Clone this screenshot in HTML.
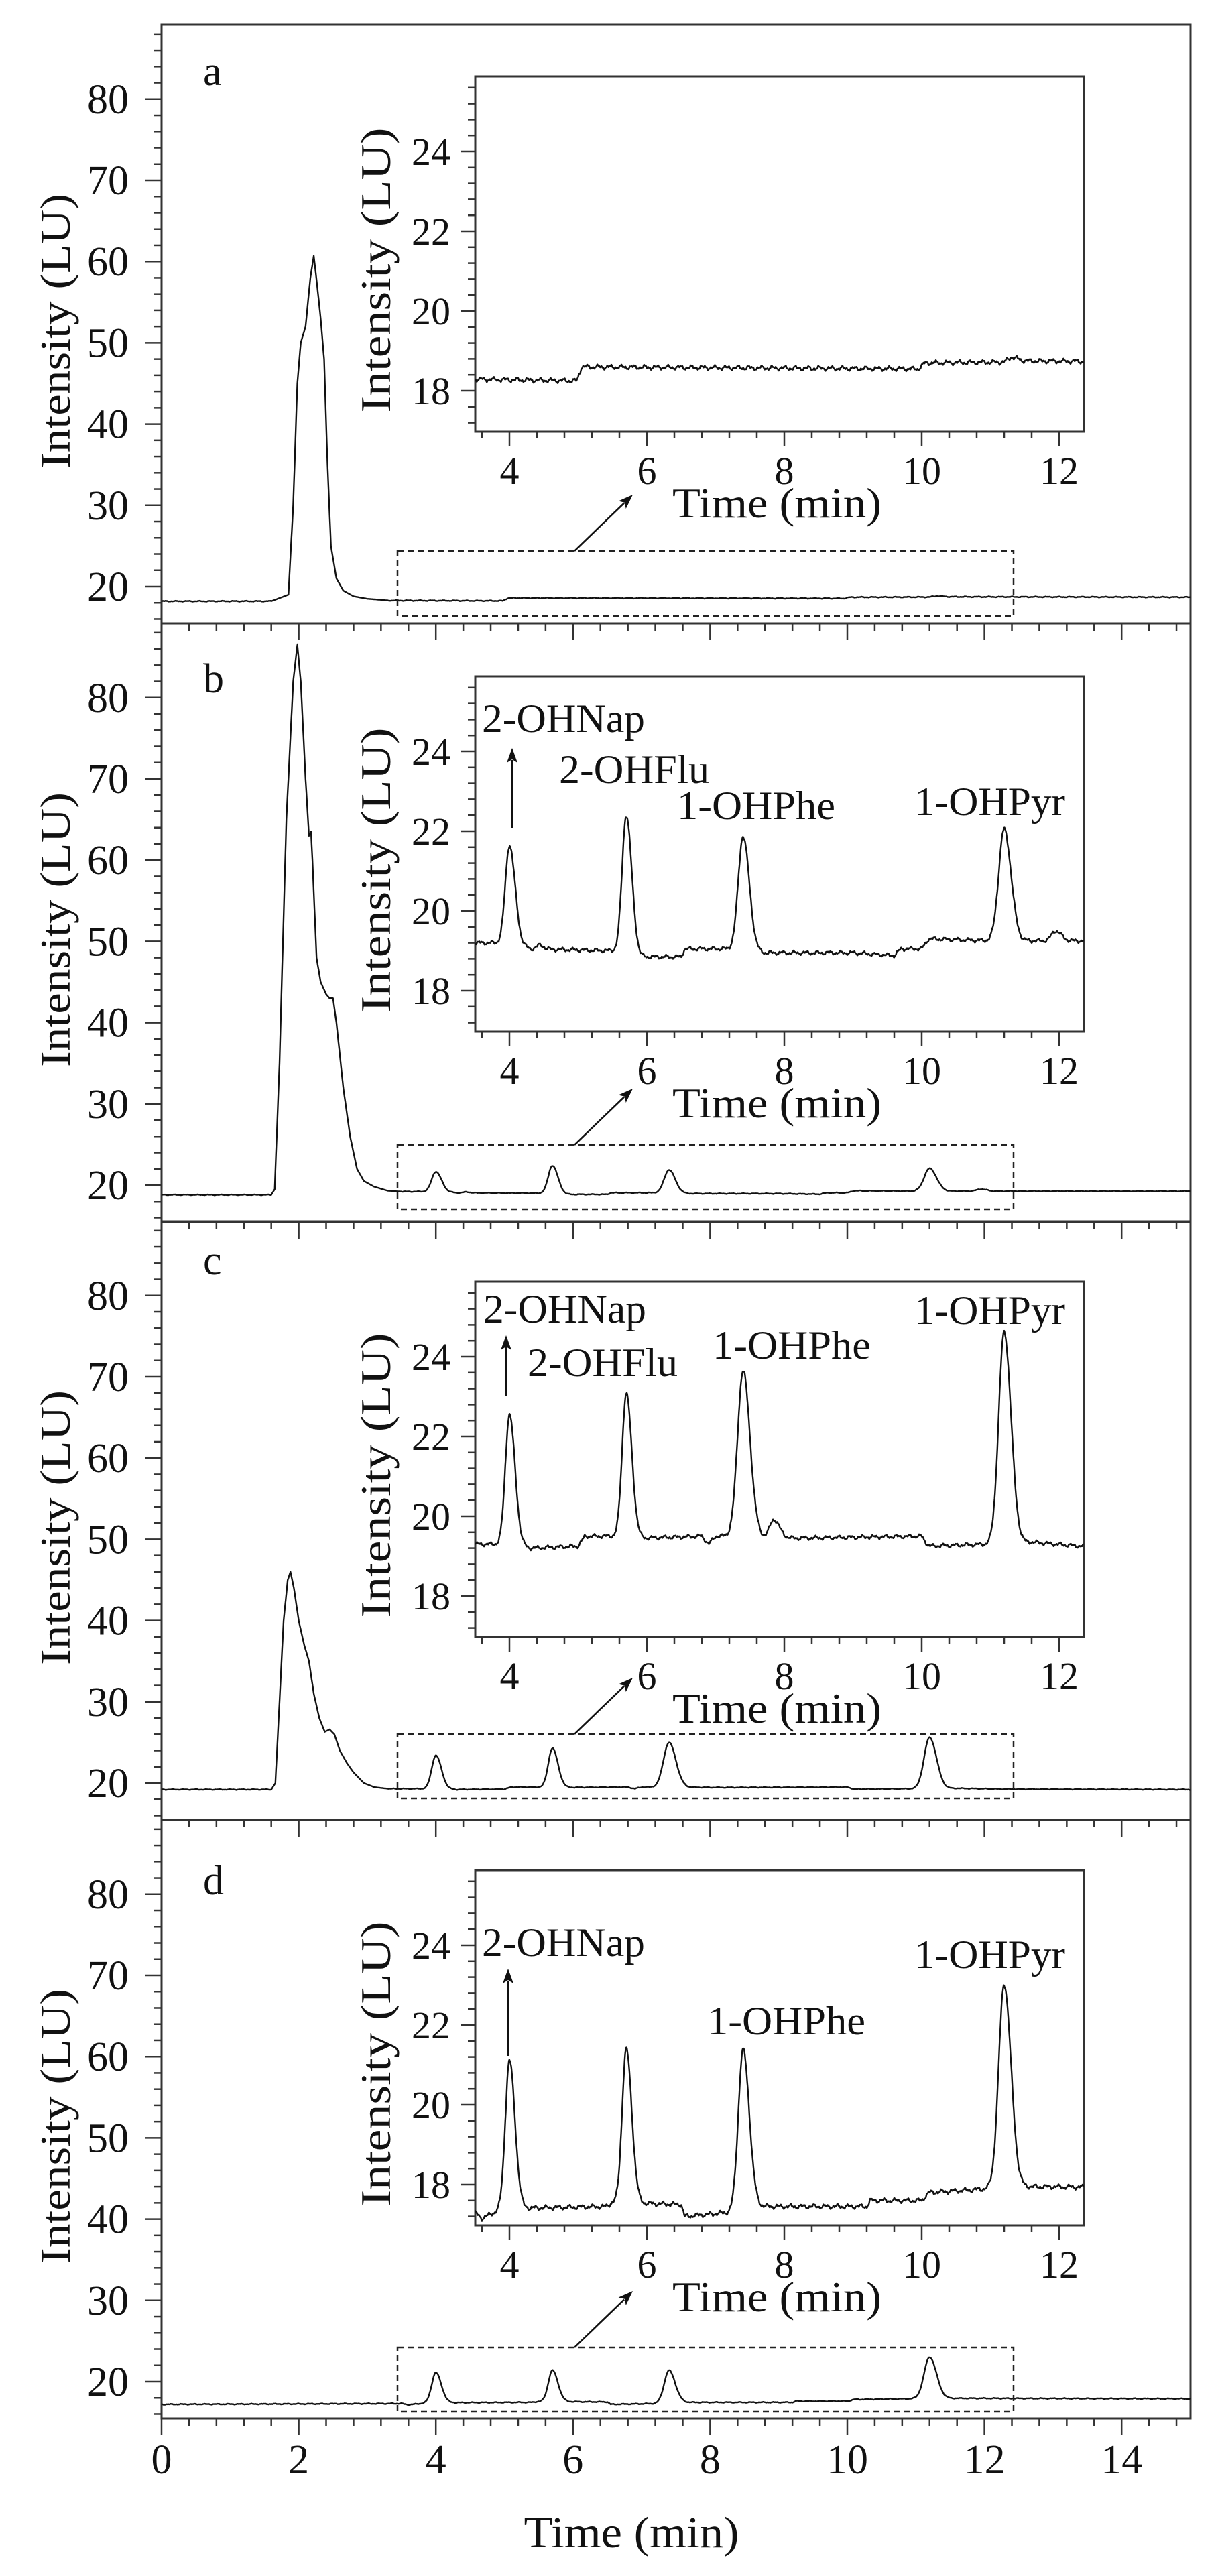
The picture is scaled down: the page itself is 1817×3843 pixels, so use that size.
<!DOCTYPE html>
<html><head><meta charset="utf-8"><style>
html,body{margin:0;padding:0;background:#fff;}
svg{display:block;}
text{font-family:"Liberation Serif",serif;fill:#111;}
</style></head><body>
<svg id="s" width="1817" height="3843" viewBox="0 0 1817 3843" xmlns="http://www.w3.org/2000/svg">
<defs>
<clipPath id="c0"><rect x="709" y="114" width="908" height="530"/></clipPath>
<clipPath id="c1"><rect x="709" y="1009" width="908" height="530"/></clipPath>
<clipPath id="c2"><rect x="709" y="1912" width="908" height="530"/></clipPath>
<clipPath id="c3"><rect x="709" y="2790" width="908" height="530"/></clipPath>
</defs>
<g id="g"></g>
<g font-size="62">
<text x="303" y="127">a</text>
<text x="303" y="1033">b</text>
<text x="303" y="1901">c</text>
<text x="303" y="2826">d</text>
</g>
<g font-size="64" text-anchor="middle">
<text transform="translate(104,494) rotate(-90)" textLength="410" lengthAdjust="spacingAndGlyphs">Intensity (LU)</text>
<text transform="translate(104,1387) rotate(-90)" textLength="410" lengthAdjust="spacingAndGlyphs">Intensity (LU)</text>
<text transform="translate(104,2279) rotate(-90)" textLength="410" lengthAdjust="spacingAndGlyphs">Intensity (LU)</text>
<text transform="translate(104,3172) rotate(-90)" textLength="410" lengthAdjust="spacingAndGlyphs">Intensity (LU)</text>
<text transform="translate(582,403) rotate(-90)" textLength="425" lengthAdjust="spacingAndGlyphs">Intensity (LU)</text>
<text transform="translate(582,1298) rotate(-90)" textLength="425" lengthAdjust="spacingAndGlyphs">Intensity (LU)</text>
<text transform="translate(582,2201) rotate(-90)" textLength="425" lengthAdjust="spacingAndGlyphs">Intensity (LU)</text>
<text transform="translate(582,3079) rotate(-90)" textLength="425" lengthAdjust="spacingAndGlyphs">Intensity (LU)</text>
</g>
<g font-size="64" text-anchor="middle">
<text x="1159" y="772" textLength="312" lengthAdjust="spacingAndGlyphs">Time (min)</text>
<text x="1159" y="1667" textLength="312" lengthAdjust="spacingAndGlyphs">Time (min)</text>
<text x="1159" y="2570" textLength="312" lengthAdjust="spacingAndGlyphs">Time (min)</text>
<text x="1159" y="3448" textLength="312" lengthAdjust="spacingAndGlyphs">Time (min)</text>
<text x="942" y="3800" font-size="66" textLength="321" lengthAdjust="spacingAndGlyphs">Time (min)</text>
</g>
<g font-size="60">
<text x="719" y="1092" textLength="243" lengthAdjust="spacingAndGlyphs">2-OHNap</text>
<text x="834" y="1168" textLength="224" lengthAdjust="spacingAndGlyphs">2-OHFlu</text>
<text x="1010" y="1222" textLength="236" lengthAdjust="spacingAndGlyphs">1-OHPhe</text>
<text x="1364" y="1216" textLength="225" lengthAdjust="spacingAndGlyphs">1-OHPyr</text>
<text x="721" y="1973" textLength="243" lengthAdjust="spacingAndGlyphs">2-OHNap</text>
<text x="787" y="2053" textLength="224" lengthAdjust="spacingAndGlyphs">2-OHFlu</text>
<text x="1063" y="2027" textLength="236" lengthAdjust="spacingAndGlyphs">1-OHPhe</text>
<text x="1364" y="1975" textLength="225" lengthAdjust="spacingAndGlyphs">1-OHPyr</text>
<text x="719" y="2918" textLength="243" lengthAdjust="spacingAndGlyphs">2-OHNap</text>
<text x="1055" y="3035" textLength="236" lengthAdjust="spacingAndGlyphs">1-OHPhe</text>
<text x="1364" y="2936" textLength="225" lengthAdjust="spacingAndGlyphs">1-OHPyr</text>
</g>
<g id="lab" font-size="60"></g>
</svg>
<script>
(function(){
var NS="http://www.w3.org/2000/svg",g=document.getElementById('g'),lab=document.getElementById('lab');
function el(n,a,p){var e=document.createElementNS(NS,n);for(var k in a)e.setAttribute(k,a[k]);(p||g).appendChild(e);return e;}
function txt(x,y,s,anchor,fs){var e=el('text',{x:x,y:y,'text-anchor':anchor,'font-size':fs},lab);e.textContent=s;}
function arrow(x1,y1,x2,y2){var dx=x2-x1,dy=y2-y1,L=Math.sqrt(dx*dx+dy*dy),ux=dx/L,uy=dy/L,hl=22,hw=8;
 var bx=x2-ux*hl,by=y2-uy*hl;
 el('line',{x1:x1,y1:y1,x2:bx+ux*4,y2:by+uy*4,stroke:'#111','stroke-width':2.6});
 el('polygon',{points:x2+','+y2+' '+(bx-uy*hw)+','+(by+ux*hw)+' '+(bx+ux*5)+','+(by+uy*5)+' '+(bx+uy*hw)+','+(by-ux*hw),fill:'#111'});}
var tops=[37,930,1822,2715],H=893;
var itops=[114,1009,1912,2790],IH=530;
var rects=[[822,919],[1708,1804],[2587,2683],[3502,3598]];
function xM(t){return 241+t*102.3;}
function yM(p,v){return tops[p]+838-(v-20)*12.12;}
function xI(t){return 760+(t-4)*102.5;}
function yI(p,v){return itops[p]+112-(v-24)*59.5;}
function interp(a,t){if(t<=a[0][0])return a[0][1];for(var i=1;i<a.length;i++){if(t<=a[i][0]){var f=(t-a[i-1][0])/(a[i][0]-a[i-1][0]);return a[i-1][1]+f*(a[i][1]-a[i-1][1]);}}return a[a.length-1][1];}
var P=[
{base:[[0,18.2],[1.6,18.2],[3.0,18.3],[4.98,18.25],[5.05,18.6],[9.95,18.55],[10.05,18.7],[11.2,18.72],[11.3,18.85],[11.5,18.75],[15,18.7]],
 big:[[1.6,18.2],[1.85,19],[1.92,30],[1.98,45],[2.03,50],[2.1,52],[2.17,58],[2.22,60.7],[2.27,57],[2.32,53],[2.37,48],[2.42,35],[2.47,25],[2.55,21],[2.65,19.5],[2.8,18.8],[3.0,18.5],[3.3,18.3]],
 peaks:[],mpeaks:null,noise:0.035},
{base:[[0,18.8],[1.6,18.8],[3.5,19.2],[4.1,19.2],[4.3,19.05],[5.6,19.0],[5.9,18.85],[6.5,18.85],[6.55,19.05],[7.3,19.05],[7.7,18.95],[9.0,18.95],[9.6,18.88],[9.7,19.05],[10.0,19.05],[10.1,19.3],[11.0,19.25],[15,19.25]],
 big:[[1.6,18.8],[1.65,19.5],[1.72,35],[1.82,65],[1.92,82],[1.98,86.5],[2.03,82],[2.1,70],[2.15,63],[2.18,63.5],[2.2,60],[2.26,48],[2.32,45],[2.4,43.5],[2.45,43],[2.5,43],[2.55,40],[2.65,32],[2.75,26],[2.85,22],[2.95,20.5],[3.1,19.8],[3.3,19.3],[3.5,19.2]],
 peaks:[[4.0,2.45,.06,.08],[5.7,3.45,.06,.08],[7.4,2.85,.07,.09],[11.2,2.8,.08,.1],[11.95,0.25,.06,.08],[4.45,0.1,.05,.05]],mpeaks:null,noise:0.03},
{base:[[0,19.2],[1.6,19.2],[3.3,19.3],[4.1,19.3],[4.3,19.2],[5.0,19.25],[5.1,19.5],[5.6,19.5],[5.9,19.45],[6.8,19.5],[6.9,19.3],[7.0,19.5],[7.3,19.5],[8.2,19.45],[10.0,19.5],[10.1,19.25],[11.0,19.3],[11.6,19.35],[12.3,19.25],[15,19.2]],
 big:[[1.6,19.2],[1.66,20],[1.72,30],[1.78,40],[1.84,45],[1.88,46],[1.93,44],[2.0,40],[2.08,37],[2.15,35],[2.22,31],[2.3,28],[2.38,26.3],[2.45,26.6],[2.52,26],[2.6,24],[2.7,22.5],[2.8,21.3],[2.95,20],[3.1,19.5],[3.3,19.3]],
 peaks:[[4.0,3.25,.06,.08],[5.7,3.6,.06,.08],[7.4,4.15,.08,.1],[11.2,5.3,.08,.1],[7.85,0.45,.06,.08]],
 mpeaks:[[4.0,4.1,.06,.08],[5.7,4.8,.06,.08],[7.4,5.5,.08,.1],[11.2,6.3,.08,.1]],noise:0.03},
{base:[[0,17.2],[3.5,17.3],[3.6,17.15],[3.9,17.4],[5.4,17.45],[5.5,17.55],[6.5,17.5],[6.55,17.2],[7.2,17.3],[7.6,17.45],[9.2,17.45],[9.25,17.6],[10.0,17.6],[10.1,17.8],[11.0,17.9],[11.6,17.95],[15,17.9]],
 big:null,peaks:[[4.0,3.7,.06,.08],[5.7,3.85,.06,.08],[7.4,4.0,.07,.09],[11.2,5.1,.08,.1]],mpeaks:null,noise:0.035}
];
function noise(t,p){return (Math.sin(t*37.1+p)+0.6*Math.sin(t*91.7+1.3+p*2)+0.4*Math.sin(t*213+2+p));}
function val(p,t,main){var d=P[p];if(main&&d.big&&t>=d.big[0][0]&&t<=d.big[d.big.length-1][0])return interp(d.big,t);
 var v=interp(d.base,t)+d.noise*noise(t,p);var pk=(main&&d.mpeaks)?d.mpeaks:d.peaks;
 for(var i=0;i<pk.length;i++){var dt=t-pk[i][0],s=dt<0?pk[i][2]:pk[i][3];v+=pk[i][1]*Math.exp(-dt*dt/(2*s*s));}return v;}
for(var p=0;p<4;p++){
 var T=tops[p],B=(p==3)?3608:tops[p]+H;
 el('rect',{x:241,y:T,width:1535,height:B-T,fill:'none',stroke:'#333','stroke-width':3});
 for(var v=16;v<=88;v+=2){var y=yM(p,v);if(y<T+3||y>B-3)continue;var maj=(v%10==0);
  el('line',{x1:maj?216:229,x2:241,y1:y,y2:y,stroke:'#333','stroke-width':2.5});
  if(maj&&v>=20&&v<=80)txt(192,y+21,String(v),'end',62);}
 for(var k=0;k<=37;k++){var t=k*0.4;var x=xM(t);var maj=(Math.abs(t/2-Math.round(t/2))<1e-6);
  el('line',{x1:x,x2:x,y1:B,y2:B+(maj?25:11),stroke:'#333','stroke-width':2.5});
  if(p==3&&maj)txt(x,3690,String(Math.round(t)),'middle',62);}
 var d='';for(var t=0;t<=15.0001;t+=0.01){d+=(t==0?'M':'L')+xM(t).toFixed(1)+','+yM(p,val(p,t,true)).toFixed(1);}
 el('path',{d:d,fill:'none',stroke:'#111','stroke-width':2.4,'stroke-linejoin':'round'});
 var r=rects[p];el('rect',{x:593,y:r[0],width:919,height:r[1]-r[0],fill:'none',stroke:'#222','stroke-width':2.5,'stroke-dasharray':'9 6'});
 arrow(857,r[0],944,r[0]-84);
 var IT=itops[p],IB=IT+IH;
 el('rect',{x:709,y:IT,width:908,height:IH,fill:'#fff',stroke:'#333','stroke-width':3});
 for(var k=0;k<=22;k++){var vv=17.2+k*0.4;var y=yI(p,vv);if(y<IT+3||y>IB-3)continue;var maj=Math.abs(vv/2-Math.round(vv/2))<1e-6;
  el('line',{x1:maj?687:698,x2:709,y1:y,y2:y,stroke:'#333','stroke-width':2.5});
  if(maj&&vv>=18&&vv<=24)txt(672,y+20,String(Math.round(vv)),'end',58);}
 for(var k=0;k<=22;k++){var t=3.6+k*0.4;if(t>12.35)break;var x=xI(t);var maj=Math.abs(t/2-Math.round(t/2))<1e-6;
  el('line',{x1:x,x2:x,y1:IB,y2:IB+(maj?22:10),stroke:'#333','stroke-width':2.5});
  if(maj)txt(x,IB+78,String(Math.round(t)),'middle',58);}
 var d2='';for(var t=3.5;t<=12.36;t+=0.005){d2+=(d2?'L':'M')+xI(t).toFixed(1)+','+yI(p,val(p,t,false)).toFixed(1);}
 el('path',{d:d2,fill:'none',stroke:'#111','stroke-width':2.4,'stroke-linejoin':'round','clip-path':'url(#c'+p+')'});
}
arrow(764,1235,764,1116);
arrow(755,2083,755,1992);
arrow(758,3067,758,2937);
})();
</script>
</body></html>
